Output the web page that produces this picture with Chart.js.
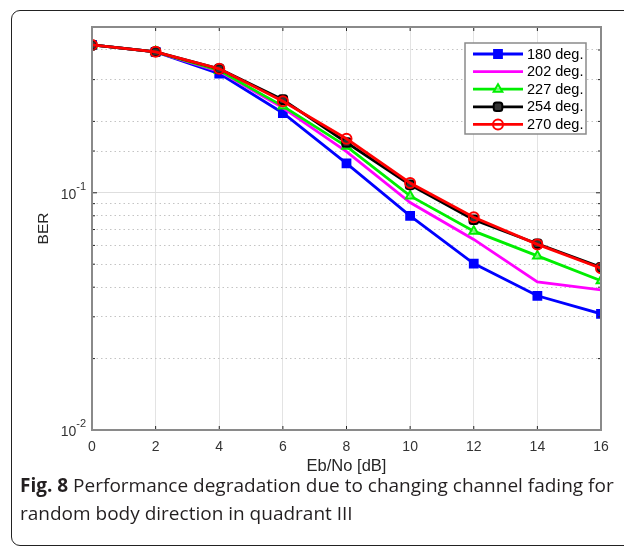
<!DOCTYPE html>
<html>
<head>
<meta charset="utf-8">
<script src="https://cdn.jsdelivr.net/npm/chart.js@4"></script>
<style>
  html, body { margin: 0; background: #fff; overflow: hidden; }
  #page { position: relative; width: 624px; height: 546px; overflow: hidden; }
  #frame { position: absolute; left: 11px; top: 10px; width: 800px; height: 534px; border: 1.5px solid #222; border-radius: 9px; }
  #wrap { position: absolute; left: 0; top: 0; width: 624px; height: 480px; }
  #caption { position: absolute; left: 20px; top: 471px; width: 604px; font-family: "Open Sans", sans-serif; font-size: 19px; line-height: 28px; color: #231f20; white-space: nowrap; }
  #caption b { font-weight: 700; }
</style>
</head>
<body>
<div id="page">
<div id="frame"></div>
<div id="wrap"><canvas id="myChart" width="624" height="480"></canvas></div>
<div id="caption"><b>Fig. 8</b> Performance degradation due to changing channel fading for<br>random body direction in quadrant III</div>
</div>
<script>
// Eb/No values (dB)
let ebno = [0, 2, 4, 6, 8, 10, 12, 14, 16];

// BER for each body direction
let ber180 = [0.42, 0.393, 0.318, 0.217, 0.133, 0.080, 0.0503, 0.0368, 0.0309];
let ber202 = [0.42, 0.393, 0.325, 0.228, 0.149, 0.091, 0.0636, 0.0421, 0.039];
let ber227 = [0.42, 0.393, 0.328, 0.232, 0.157, 0.097, 0.0689, 0.0542, 0.0426];
let ber254 = [0.42, 0.393, 0.333, 0.247, 0.163, 0.108, 0.077, 0.061, 0.0485];
let ber270 = [0.42, 0.393, 0.333, 0.243, 0.169, 0.110, 0.0788, 0.0606, 0.0481];

let seriesNames = ['180 deg.', '202 deg.', '227 deg.', '254 deg.', '270 deg.'];
let xTicks = [0, 2, 4, 6, 8, 10, 12, 14, 16];
let yMin = 0.01;
let yMax = 0.5;
let decadeTicks = [0.01, 0.1];

let fontFam = '"Liberation Sans", Arial, sans-serif';

function toPoints(ys) {
    return ebno.map(function (x, i) { return { x: x, y: ys[i] }; });
}

function isDecade(v) {
    let l = Math.log10(v);
    return Math.abs(l - Math.round(l)) < 1e-6;
}

let styles = [
    { color: '#0000ff', pointStyle: 'rect', radius: 5.5, fill: '#0000ff' },
    { color: '#ff00ff', pointStyle: 'circle', radius: 0, fill: '#ff00ff' },
    { color: '#00ee00', pointStyle: 'triangle', radius: 5, fill: 'rgba(200,255,200,0.6)' },
    { color: '#000000', pointStyle: 'rectRounded', radius: 5, fill: '#333333' },
    { color: '#ff0000', pointStyle: 'circle', radius: 5, fill: 'rgba(0,0,0,0)' }
];
let allSeries = [ber180, ber202, ber227, ber254, ber270];

let datasets = allSeries.map(function (ys, i) {
    return {
        label: seriesNames[i],
        data: toPoints(ys),
        borderColor: styles[i].color,
        backgroundColor: styles[i].fill,
        borderWidth: 2.8,
        pointStyle: styles[i].pointStyle,
        pointRadius: styles[i].radius,
        pointBorderColor: styles[i].color,
        pointBackgroundColor: styles[i].fill,
        pointBorderWidth: 2,
        tension: 0,
        order: allSeries.length - i
    };
});

// box around the axes, small inward ticks and the 10^n labels
let boxPlugin = {
    id: 'boxPlugin',
    afterDatasetsDraw: function (chart) {
        let ctx = chart.ctx;
        let a = chart.chartArea;
        let xs = chart.scales.x;
        let ys = chart.scales.y;
        ctx.save();
        ctx.strokeStyle = '#262626';
        ctx.lineWidth = 1;
        ctx.beginPath();
        xs.ticks.forEach(function (t) {
            let px = xs.getPixelForValue(t.value);
            ctx.moveTo(px, a.bottom); ctx.lineTo(px, a.bottom - 4);
            ctx.moveTo(px, a.top); ctx.lineTo(px, a.top + 4);
        });
        ys.ticks.forEach(function (t) {
            let py = ys.getPixelForValue(t.value);
            let len = isDecade(t.value) ? 5 : 3;
            ctx.moveTo(a.left, py); ctx.lineTo(a.left + len, py);
            ctx.moveTo(a.right, py); ctx.lineTo(a.right - len, py);
        });
        ctx.stroke();
        ctx.strokeStyle = '#8a8a8a';
        ctx.lineWidth = 2;
        ctx.strokeRect(a.left, a.top, a.right - a.left, a.bottom - a.top);

        // y tick labels as 10 with a raised exponent
        ctx.fillStyle = '#333333';
        ctx.textBaseline = 'middle';
        decadeTicks.forEach(function (v) {
            let py = ys.getPixelForValue(v);
            let exp = String(Math.round(Math.log10(v)));
            ctx.font = '11px ' + fontFam;
            ctx.textAlign = 'right';
            let right = a.left - 6;
            ctx.fillText(exp, right, py - 6);
            let ew = ctx.measureText(exp).width;
            ctx.font = '14px ' + fontFam;
            ctx.fillText('10', right - ew, py + 2);
        });
        ctx.restore();
    }
};

// legend in the top right corner of the plot
let legendPlugin = {
    id: 'legendPlugin',
    afterDraw: function (chart) {
        let ctx = chart.ctx;
        let bx = 465, by = 43, bw = 121, bh = 91;
        ctx.save();
        ctx.fillStyle = '#ffffff';
        ctx.fillRect(bx, by, bw, bh);
        ctx.strokeStyle = '#8a8a8a';
        ctx.lineWidth = 1.5;
        ctx.strokeRect(bx, by, bw, bh);
        ctx.font = '14.5px ' + fontFam;
        ctx.textBaseline = 'middle';
        chart.data.datasets.forEach(function (ds, i) {
            let y = by + 11 + i * 17.6;
            ctx.strokeStyle = ds.borderColor;
            ctx.lineWidth = 2.8;
            ctx.beginPath();
            ctx.moveTo(bx + 8, y);
            ctx.lineTo(bx + 58, y);
            ctx.stroke();
            if (ds.pointRadius > 0) {
                ctx.fillStyle = ds.pointBackgroundColor;
                ctx.strokeStyle = ds.pointBorderColor;
                ctx.lineWidth = ds.pointBorderWidth;
                Chart.helpers.drawPoint(ctx, { pointStyle: ds.pointStyle, radius: ds.pointRadius, rotation: 0, borderWidth: ds.pointBorderWidth }, bx + 33, y);
            }
            ctx.fillStyle = '#000000';
            ctx.fillText(ds.label, bx + 62, y + 0.5);
        });
        ctx.restore();
    }
};

let ctx = document.getElementById('myChart').getContext('2d');
let chart = new Chart(ctx, {
    type: 'line',
    data: { datasets: datasets },
    plugins: [boxPlugin, legendPlugin],
    options: {
        responsive: false,
        animation: false,
        layout: { padding: { top: 27, right: 23, left: 0, bottom: 0 } },
        plugins: { legend: { display: false }, tooltip: { enabled: false } },
        scales: {
            x: {
                type: 'linear',
                min: 0,
                max: 16,
                afterBuildTicks: function (axis) {
                    axis.ticks = xTicks.map(function (v) { return { value: v }; });
                },
                ticks: {
                    padding: 9,
                    color: '#333333',
                    font: { family: fontFam, size: 14 }
                },
                grid: { color: '#e3e3e3', lineWidth: 1, drawTicks: false },
                border: { display: false },
                title: {
                    display: true,
                    text: 'Eb/No [dB]',
                    color: '#262626',
                    font: { family: fontFam, size: 16.5 },
                    padding: { top: 0, bottom: 4 }
                },
                afterFit: function (axis) { axis.height = 50; }
            },
            y: {
                type: 'logarithmic',
                min: yMin,
                max: yMax,
                ticks: {
                    autoSkip: false,
                    padding: 6,
                    font: { family: fontFam, size: 14 },
                    callback: function () { return ''; }
                },
                grid: {
                    drawTicks: false,
                    color: function (c) {
                        if (!c.tick) return '#e3e3e3';
                        return isDecade(c.tick.value) ? '#dedede' : '#c4c4c4';
                    },
                    lineWidth: 1
                },
                border: {
                    display: false,
                    dash: function (c) {
                        if (!c.tick || isDecade(c.tick.value)) return [];
                        return [1.5, 3];
                    }
                },
                title: {
                    display: true,
                    text: 'BER',
                    color: '#262626',
                    font: { family: fontFam, size: 15.5 },
                    padding: { top: 34, bottom: 0 }
                },
                afterFit: function (axis) { axis.width = 92; }
            }
        }
    }
});
</script>
</body>
</html>
